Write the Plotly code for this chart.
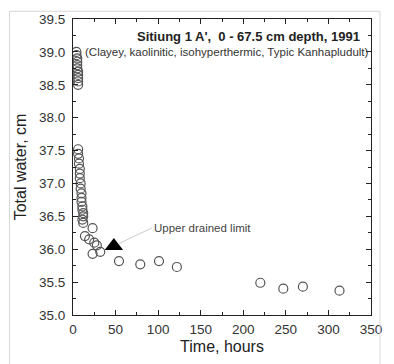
import plotly.graph_objects as go

# Observed total water (cm) vs time (hours)
time_h = [4, 4, 5, 5, 5, 5, 6, 6, 6, 6, 6,
          6, 6, 7, 7, 8, 8, 8, 9, 9, 10, 10, 10, 11, 11, 12, 12, 11, 12,
          23, 14, 19, 25, 28, 23, 32,
          54, 79, 101, 122, 220, 247, 270, 313]
water_cm = [39.0, 38.95, 38.9, 38.85, 38.8, 38.75, 38.7, 38.65, 38.6, 38.55, 38.5,
            37.52, 37.45, 37.38, 37.3, 37.22, 37.15, 37.08, 37.0, 36.92, 36.85, 36.78, 36.72,
            36.65, 36.6, 36.55, 36.5, 36.45, 36.4,
            36.32, 36.2, 36.15, 36.1, 36.06, 35.93, 35.96,
            35.82, 35.77, 35.82, 35.73, 35.49, 35.40, 35.43, 35.37]

# Upper drained limit
udl_time = [48]
udl_water = [36.05]

x_ticks = [0, 50, 100, 150, 200, 250, 300, 350]
y_ticks = [35.0, 35.5, 36.0, 36.5, 37.0, 37.5, 38.0, 38.5, 39.0, 39.5]

title_line1 = "Sitiung 1 A',  0 - 67.5 cm depth, 1991"
title_line2 = "(Clayey, kaolinitic, isohyperthermic, Typic Kanhapludult)"

font_family = "Arial, Liberation Sans, sans-serif"

fig = go.Figure()
fig.add_trace(go.Scatter(
    x=time_h, y=water_cm, mode="markers",
    marker=dict(symbol="circle-open", size=9, color="#555555", line=dict(width=1.2)),
    showlegend=False,
))
fig.add_trace(go.Scatter(
    x=udl_time, y=udl_water, mode="markers",
    marker=dict(symbol="triangle-up", size=16, color="#000000"),
    showlegend=False,
))

fig.add_annotation(
    x=udl_time[0], y=udl_water[0], xref="x", yref="y",
    text="Upper drained limit", showarrow=True, arrowhead=0,
    arrowcolor="#cccccc", arrowwidth=1,
    ax=38, ay=-18, xanchor="left", yanchor="middle",
    font=dict(family=font_family, size=11.5, color="#444444"),
    standoff=6,
)
fig.add_annotation(
    x=1, y=39.24, xref="paper", yref="y", xanchor="right", yanchor="middle",
    text="<b>" + title_line1 + "</b>", showarrow=False,
    font=dict(family=font_family, size=13, color="#222222"),
    xshift=-9,
)
fig.add_annotation(
    x=1, y=39.0, xref="paper", yref="y", xanchor="right", yanchor="middle",
    text=title_line2, showarrow=False,
    font=dict(family=font_family, size=11.5, color="#333333"),
    xshift=0,
)

# Outer light frame of the picture
fig.add_shape(type="rect", xref="paper", yref="paper",
              x0=-0.213, x1=1.03, y0=-0.2, y1=1.026,
              line=dict(color="#d8d8d8", width=1))

axis_common = dict(
    showgrid=False, zeroline=False, showline=True, linecolor="#222222", linewidth=1,
    mirror="allticks", ticks="inside", ticklen=5, tickcolor="#222222",
    tickfont=dict(family=font_family, size=13.5, color="#333333"),
)
fig.update_xaxes(
    range=[0, 350], tickvals=x_ticks, ticktext=[str(v) for v in x_ticks],
    minor=dict(ticks="inside", ticklen=3, dtick=25, tickcolor="#222222"),
    ticklabelstandoff=2, ticklabeloverflow="allow",
    title=dict(text="Time, hours", font=dict(family=font_family, size=16, color="#222222"), standoff=4),
    **axis_common,
)
fig.update_yaxes(
    range=[35.0, 39.5], tickvals=y_ticks, ticktext=[f"{v:.1f}" for v in y_ticks],
    minor=dict(ticks="inside", ticklen=3, dtick=0.25, tickcolor="#222222"),
    ticklabelstandoff=4,
    title=dict(text="Total water, cm", font=dict(family=font_family, size=16, color="#222222"), standoff=8),
    **axis_common,
)
fig.update_layout(
    width=394, height=364,
    margin=dict(l=73, r=15, t=17, b=39),
    paper_bgcolor="white", plot_bgcolor="white",
)
fig.write_html(
    "out.html",
    config={"displayModeBar": False},
    post_script="document.body.style.margin='0';document.body.style.overflow='hidden';",
)
